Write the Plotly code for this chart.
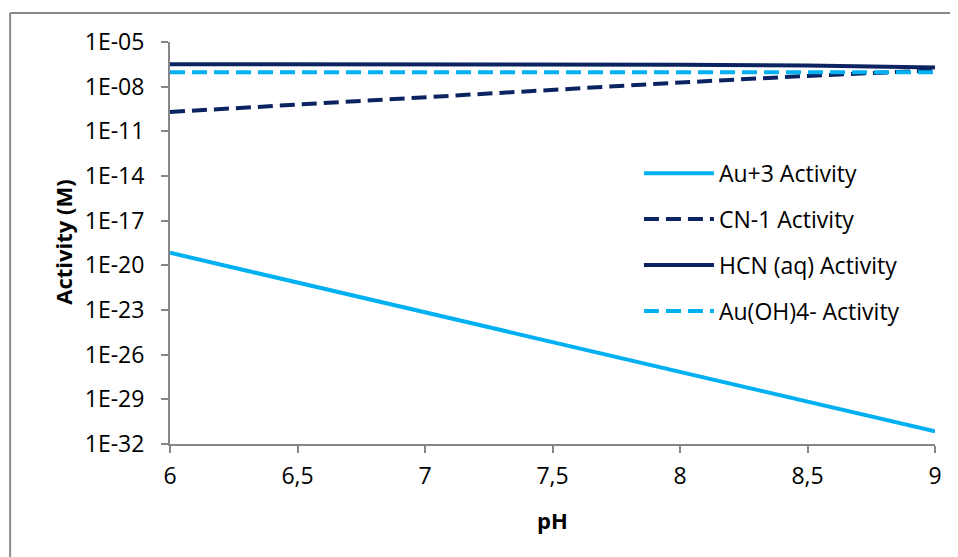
import plotly.graph_objects as go

ph = [6, 6.5, 7, 7.5, 8, 8.5, 9]
au3 = [7e-20, 7e-22, 7e-24, 7e-26, 7e-28, 7e-30, 7e-32]
cn = [2.0e-10, 6.4e-10, 2.0e-09, 6.3e-09, 1.9e-08, 5.3e-08, 1.24e-07]
hcn = [3.2e-07, 3.19e-07, 3.18e-07, 3.14e-07, 3.01e-07, 2.67e-07, 1.96e-07]
auoh4 = [9.3e-08, 9.3e-08, 9.3e-08, 9.3e-08, 9.3e-08, 9.3e-08, 9.3e-08]

names = ["Au+3 Activity", "CN-1 Activity", "HCN (aq) Activity", "Au(OH)4- Activity"]
ytick_exps = [-32, -29, -26, -23, -20, -17, -14, -11, -8, -5]
ytick_text = ["1E-32", "1E-29", "1E-26", "1E-23", "1E-20", "1E-17", "1E-14", "1E-11", "1E-08", "1E-05"]
xtick_vals = [6, 6.5, 7, 7.5, 8, 8.5, 9]
xtick_text = ["6", "6,5", "7", "7,5", "8", "8,5", "9"]

light = "#00B0F0"
dark = "#0B2461"
font = "Open Sans"
dashpat = "15px,7px"

fig = go.Figure()
series = [(au3, light, "solid"), (cn, dark, dashpat), (hcn, dark, "solid"), (auoh4, light, dashpat)]
for i, (ys, col, dsh) in enumerate(series):
    fig.add_trace(go.Scatter(x=ph, y=ys, mode="lines", name=names[i], legendgroup=str(i),
                             line=dict(color=col, width=4, dash=dsh)))

fig.update_layout(
    width=950, height=549,
    margin=dict(l=162, r=23, t=34, b=113),
    paper_bgcolor="white", plot_bgcolor="white",
    font=dict(family=font, size=23, color="#000000"),
    showlegend=True,
    legend=dict(x=0.613, y=0.727, xanchor="left", yanchor="top", bgcolor="rgba(0,0,0,0)",
                font=dict(size=23), tracegroupgap=13, traceorder="grouped", itemwidth=70),
    xaxis=dict(range=[6, 9], tickvals=xtick_vals, ticktext=xtick_text, showgrid=False, zeroline=False,
               showline=True, linecolor="#868686", linewidth=2, ticks="outside", ticklen=7,
               tickcolor="#868686", tickwidth=2, ticklabelstandoff=3),
    yaxis=dict(type="log", range=[-32, -5], tickvals=[10.0 ** e for e in ytick_exps], ticktext=ytick_text,
               showgrid=False, zeroline=False, showline=True, linecolor="#868686", linewidth=2,
               ticks="outside", ticklen=7, tickcolor="#868686", tickwidth=2, ticklabelstandoff=12),
)

fig.add_annotation(text="<b>Activity (M)</b>", xref="paper", yref="paper", x=-0.141, y=0.501,
                   textangle=-90, showarrow=False, font=dict(size=22), xanchor="center", yanchor="middle")
fig.add_annotation(text="<b>pH</b>", xref="paper", yref="paper", x=0.5, y=-0.189,
                   showarrow=False, font=dict(size=22), xanchor="center", yanchor="middle")

# outer chart border (top and left visible)
fig.add_shape(type="line", xref="paper", yref="paper", x0=-0.209, x1=1.04, y0=1.072, y1=1.072,
              line=dict(color="#898989", width=2))
fig.add_shape(type="line", xref="paper", yref="paper", x0=-0.209, x1=-0.209, y0=1.072, y1=-0.29,
              line=dict(color="#898989", width=2))

fig.write_html("out.html")
